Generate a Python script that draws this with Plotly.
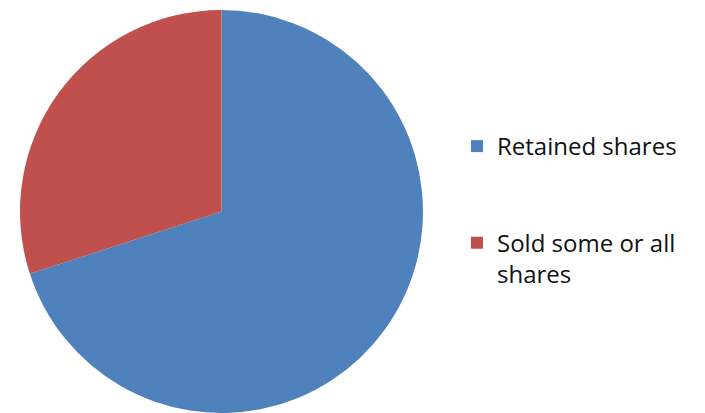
import plotly.graph_objects as go

labels = ["Retained shares<br><br>", "Sold some or all<br>shares"]
values = [70, 30]
colors = ["#4F81BD", "#C0504D"]

W, H = 705, 413

fig = go.Figure(
    go.Pie(
        labels=labels,
        values=values,
        marker=dict(colors=colors, line=dict(width=0)),
        sort=False,
        direction="clockwise",
        rotation=0,
        textinfo="none",
        hoverinfo="label+percent",
        domain=dict(x=[20 / W, 423 / W], y=[0, 403 / H]),
    )
)

fig.update_layout(
    width=W,
    height=H,
    margin=dict(l=0, r=0, t=0, b=0),
    paper_bgcolor="white",
    plot_bgcolor="white",
    font=dict(family="Open Sans", size=24, color="#111111"),
    showlegend=True,
    legend=dict(
        x=457 / W,
        xanchor="left",
        y=1 - 124 / H,
        yanchor="top",
        valign="top",
        bgcolor="rgba(0,0,0,0)",
        font=dict(family="Open Sans", size=24, color="#111111"),
    ),
)

fig.write_html("out.html")
